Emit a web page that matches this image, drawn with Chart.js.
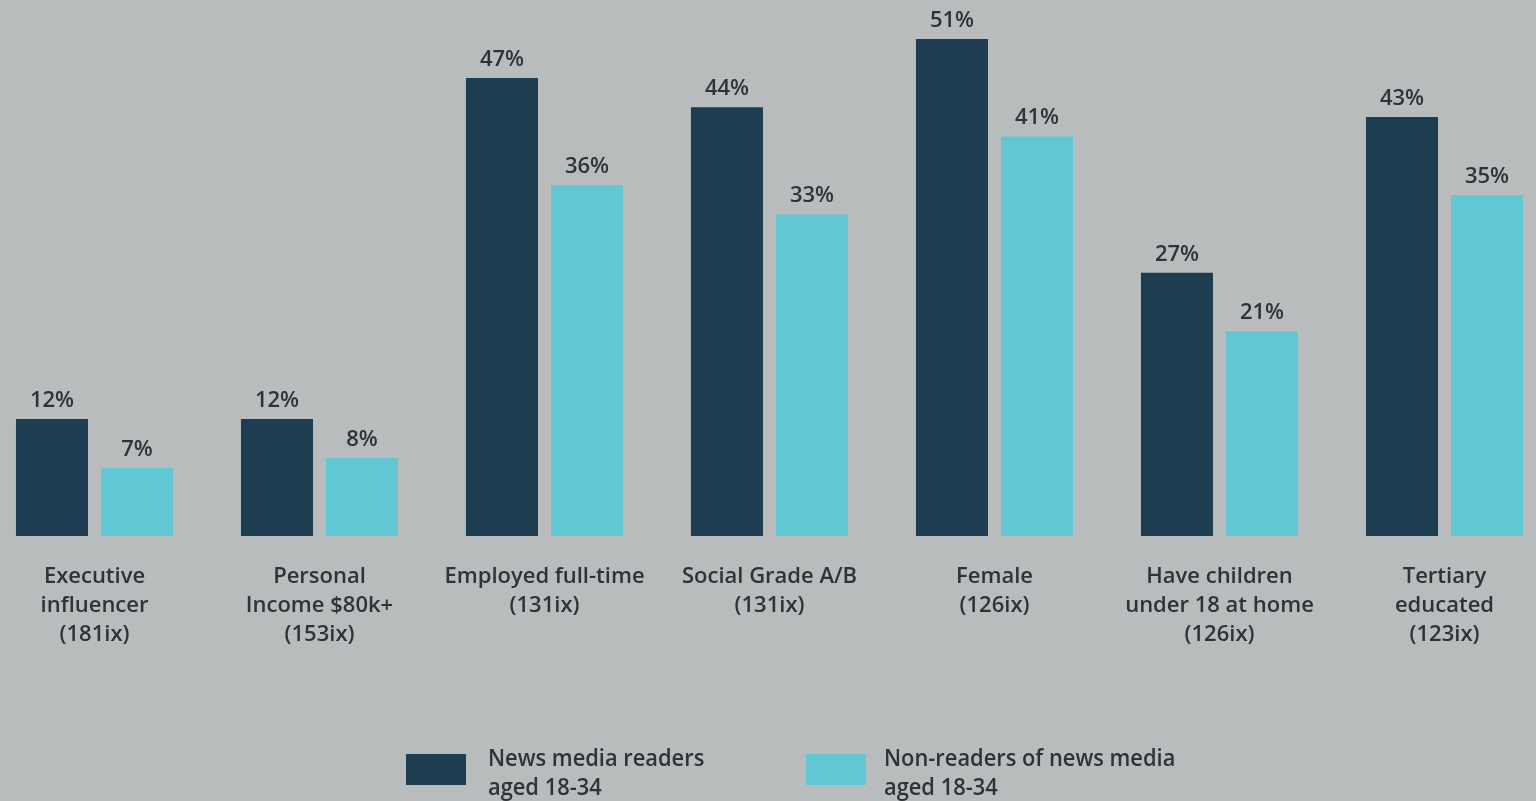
<!DOCTYPE html>
<html>
<head>
<meta charset="utf-8">
<script src="https://cdn.jsdelivr.net/npm/chart.js@4.4.0/dist/chart.umd.min.js"></script>
<style>
    html, body {
        margin: 0;
        padding: 0;
        background: #b9bcbd;
        overflow: hidden;
    }
    #wrap {
        position: absolute;
        left: -18px;
        top: 0;
        width: 1575px;
        height: 801px;
    }
    .legend {
        position: absolute;
        top: 743px;
        font-family: 'Open Sans', sans-serif;
        font-weight: 600;
        font-size: 23px;
        color: #2e3336;
        line-height: 29px;
    }
    .legend .box {
        position: absolute;
        top: 11px;
        width: 60px;
        height: 31px;
    }
    .legend .txt {
        position: absolute;
        left: 82px;
        top: 0;
        white-space: nowrap;
        transform: scaleX(0.95);
        transform-origin: left top;
    }
</style>
</head>
<body>
<div id="wrap"><canvas id="demoChart"></canvas></div>

<div class="legend" style="left:406px">
    <div class="box" style="background:#1f3d50"></div>
    <div class="txt">News media readers<br>aged 18-34</div>
</div>
<div class="legend" style="left:806px">
    <div class="box" style="background:#61c8d3"></div>
    <div class="txt" style="left:78px">Non-readers of news media<br>aged 18-34</div>
</div>

<script>
// categories (multi-line labels)
const categories = [
    ['Executive', 'influencer', '(181ix)'],
    ['Personal', 'Income $80k+', '(153ix)'],
    ['Employed full-time', '(131ix)'],
    ['Social Grade A/B', '(131ix)'],
    ['Female', '(126ix)'],
    ['Have children', 'under 18 at home', '(126ix)'],
    ['Tertiary', 'educated', '(123ix)']
];
const readers = [12, 12, 47, 44, 51, 27, 43];
const nonReaders = [7, 8, 36, 33, 41, 21, 35];

const textColor = '#2e3336';

// value labels above bars + category labels under the axis
const labelPlugin = {
    id: 'labelPlugin',
    afterDatasetsDraw: function(chart) {
        const ctx = chart.ctx;
        ctx.save();
        ctx.fillStyle = textColor;
        ctx.textAlign = 'center';

        ctx.font = '600 22px "Open Sans"';
        ctx.textBaseline = 'alphabetic';
        chart.data.datasets.forEach(function(ds, i) {
            let meta = chart.getDatasetMeta(i);
            meta.data.forEach(function(bar, j) {
                ctx.fillText(ds.data[j] + '%', bar.x, bar.y - 12);
            });
        });

        let xScale = chart.scales.x;
        let base = chart.chartArea.bottom;
        ctx.font = '600 22px "Open Sans"';
        ctx.textBaseline = 'middle';
        categories.forEach(function(lines, j) {
            let x = xScale.getPixelForValue(j);
            for (i = 0; i < lines.length; i++) {
                ctx.fillText(lines[i], x, base + 41 + i * 29);
            }
        });
        ctx.restore();
    }
};

const ctx = document.getElementById('demoChart');
const myChart = new Chart(ctx, {
    type: 'bar',
    data: {
        labels: categories.map(function(c) { return c.join(' '); }),
        datasets: [{
            label: 'News media readers aged 18-34',
            data: readers,
            backgroundColor: '#1f3d50',
            borderWidth: 0
        }, {
            label: 'Non-readers of news media aged 18-34',
            data: nonReaders,
            backgroundColor: '#61c8d3',
            borderWidth: 0
        }]
    },
    options: {
        responsive: true,
        maintainAspectRatio: false,
        animation: false,
        datasets: {
            bar: {
                categoryPercentage: 0.756,
                barPercentage: 0.847
            }
        },
        layout: {
            padding: { top: 0, bottom: 265, left: 0, right: 0 }
        },
        scales: {
            x: { display: false },
            y: { display: false, min: 0, max: 55 }
        },
        plugins: {
            legend: { display: false },
            tooltip: { enabled: false }
        }
    },
    plugins: [labelPlugin]
});
</script>
</body>
</html>
